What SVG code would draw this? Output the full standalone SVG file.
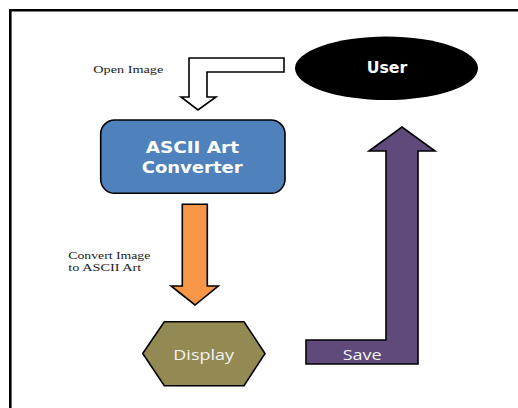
<svg xmlns="http://www.w3.org/2000/svg" width="518" height="408" viewBox="0 0 518 408">
<style>
.shape{stroke:#000;stroke-width:1.6;stroke-linejoin:miter}
.lbl{font-family:"Liberation Serif","Times New Roman",serif;font-size:11px;fill:#222}
.wb{font-family:"DejaVu Sans",Verdana,sans-serif;font-weight:bold;fill:#fff}
.wn{font-family:"Open Sans","DejaVu Sans",sans-serif;fill:#f4f4f4}
</style>
<rect x="0" y="0" width="518" height="408" fill="#fff"/>
<path d="M10.3,408 V10.3 H518" fill="none" stroke="#000" stroke-width="2.6"/>
<g id="connectors">
  <g id="open-image">
    <path class="shape" d="M284,58 L189,58 L189,97 L181,97 L198,110 L216,97 L207,97 L207,72 L284,72 Z" fill="#fff"/>
    <text class="lbl" x="93.3" y="73.3" textLength="70" lengthAdjust="spacingAndGlyphs">Open Image</text>
  </g>
  <g id="convert">
    <path class="shape" d="M182.3,204.3 L207.3,204.3 L207.3,286 L218.3,286 L195,305 L171,286 L182.3,286 Z" fill="#F79646"/>
    <text class="lbl" x="68.3" y="259" textLength="82" lengthAdjust="spacingAndGlyphs">Convert Image</text>
    <text class="lbl" x="68.3" y="270.5" textLength="73" lengthAdjust="spacingAndGlyphs">to ASCII Art</text>
  </g>
  <g id="save">
    <path class="shape" d="M306,340 L386,340 L386,151 L369,151 L402,127 L435,151 L418,151 L418,364 L306,364 Z" fill="#604A7B"/>
    <text class="wn" x="342.7" y="360" font-size="14" textLength="39" lengthAdjust="spacingAndGlyphs">Save</text>
  </g>
</g>
<g id="user">
  <ellipse cx="386.5" cy="68.3" rx="91.5" ry="31.7" fill="#000"/>
  <text class="wb" x="366.7" y="72.7" font-size="15" textLength="40.6" lengthAdjust="spacingAndGlyphs">User</text>
</g>
<g id="converter">
  <rect class="shape" x="100.7" y="120" width="184.3" height="73.3" rx="14" ry="14" fill="#4F81BD"/>
  <text class="wb" x="145.7" y="153.3" font-size="16" textLength="93.3" lengthAdjust="spacingAndGlyphs">ASCII Art</text>
  <text class="wb" x="141.7" y="172.7" font-size="16" textLength="101" lengthAdjust="spacingAndGlyphs">Converter</text>
</g>
<g id="display">
  <polygon class="shape" points="142.7,353.5 164.3,321.7 244,321.7 265,353.5 244,385.7 164.3,385.7" fill="#938953"/>
  <text class="wn" x="173.3" y="359.5" font-size="15" textLength="60.7" lengthAdjust="spacingAndGlyphs">Display</text>
</g>
</svg>
